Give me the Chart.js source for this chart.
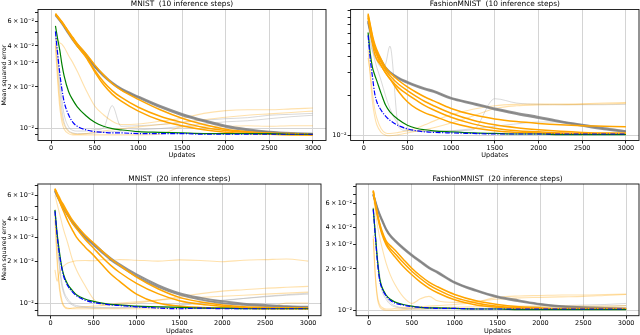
<!DOCTYPE html>
<html>
<head>
<meta charset="utf-8">
<script src="https://cdn.jsdelivr.net/npm/chart.js@4.4.1/dist/chart.umd.min.js"></script>
<style>
  html, body { margin: 0; padding: 0; background: #fff; }
  #page { position: relative; width: 640px; height: 335px; overflow: hidden; }
  #page canvas { position: absolute; }
</style>
</head>
<body>
<div id="page">
  <canvas id="c1" width="330" height="159" style="left:0;top:0"></canvas>
  <canvas id="c2" width="314" height="159" style="left:326px;top:0"></canvas>
  <canvas id="c3" width="330" height="165" style="left:0;top:170px"></canvas>
  <canvas id="c4" width="314" height="165" style="left:326px;top:170px"></canvas>
</div>
<script>
// x positions (updates) shared by every run
const updates = [50, 75, 100, 125, 150, 200, 250, 300, 400, 500, 600, 700, 800, 1000, 1250, 1500, 1750, 2000, 2250, 2500, 2750, 3000];
const xTicks = [0, 500, 1000, 1500, 2000, 2500, 3000];

const titles = ['MNIST  (10 inference steps)', 'FashionMNIST  (10 inference steps)',
                'MNIST  (20 inference steps)', 'FashionMNIST  (20 inference steps)'];

const yTicksMnist = [0.009, 0.01, 0.02, 0.03, 0.04, 0.05, 0.06, 0.07];
const yTicksFashion10 = [0.01, 0.02, 0.03, 0.04, 0.05, 0.06, 0.07, 0.08, 0.09];
const yTicksFashion20 = [0.01, 0.02, 0.03, 0.04, 0.05, 0.06, 0.07, 0.08];
const yLabelsFull = { 10: '10⁻²', 20: '2\u2009×\u200910⁻²', 30: '3\u2009×\u200910⁻²', 40: '4\u2009×\u200910⁻²', 60: '6\u2009×\u200910⁻²' };
const yLabelsDecade = { 10: '10⁻²' };

// ---- MNIST, 10 inference steps ----
const m10Gray1 = [0.068, 0.065, 0.062, 0.059, 0.056, 0.050, 0.045, 0.041, 0.0345, 0.0285, 0.0245, 0.0215, 0.0195, 0.0170, 0.0145, 0.0127, 0.0114, 0.0104, 0.0098, 0.0094, 0.0092, 0.0091];
const m10Gray2 = [0.067, 0.064, 0.061, 0.058, 0.055, 0.049, 0.044, 0.040, 0.0338, 0.0280, 0.0240, 0.0212, 0.0192, 0.0167, 0.0142, 0.0124, 0.0112, 0.0102, 0.0096, 0.0093, 0.0091, 0.0090];
const m10Orange1 = [0.069, 0.066, 0.063, 0.060, 0.057, 0.051, 0.046, 0.0415, 0.035, 0.029, 0.0245, 0.0212, 0.0190, 0.0162, 0.0136, 0.0118, 0.0106, 0.0098, 0.0094, 0.0092, 0.0091, 0.0090];
const m10Orange2 = [0.068, 0.065, 0.062, 0.059, 0.056, 0.050, 0.0445, 0.040, 0.0335, 0.0265, 0.0218, 0.0188, 0.0168, 0.0142, 0.0122, 0.0110, 0.0101, 0.0096, 0.0093, 0.0091, 0.0090, 0.0089];
const m10Orange3 = [0.068, 0.065, 0.062, 0.059, 0.056, 0.050, 0.0445, 0.0398, 0.0330, 0.0258, 0.0208, 0.0177, 0.0158, 0.0133, 0.0114, 0.0104, 0.0097, 0.0093, 0.0091, 0.0090, 0.0089, 0.0089];
const m10Green = [0.056, 0.045, 0.037, 0.029, 0.024, 0.0185, 0.016, 0.0143, 0.0123, 0.0110, 0.0103, 0.0099, 0.0097, 0.0094, 0.0093, 0.0092, 0.0091, 0.0091, 0.0091, 0.0091, 0.0090, 0.0090];
const m10Blue = [0.051, 0.035, 0.025, 0.019, 0.0155, 0.0125, 0.0110, 0.0103, 0.0097, 0.0094, 0.0093, 0.0092, 0.0092, 0.0091, 0.0091, 0.0091, 0.0090, 0.0090, 0.0090, 0.0090, 0.0090, 0.0090];
const m10Faint1 = [0.045, 0.044, 0.042, 0.041, 0.039, 0.034, 0.030, 0.026, 0.019, 0.0145, 0.0125, 0.0112, 0.0106, 0.0107, 0.0112, 0.0118, 0.0128, 0.0134, 0.0136, 0.0136, 0.0138, 0.0140];
const m10Faint2 = [0.042, 0.025, 0.016, 0.012, 0.0105, 0.0094, 0.0091, 0.0090, 0.0091, 0.0093, 0.0095, 0.0097, 0.0099, 0.0102, 0.0106, 0.0110, 0.0115, 0.0120, 0.0124, 0.0127, 0.0130, 0.0133];
const m10Faint3 = [0.040, 0.022, 0.014, 0.011, 0.0098, 0.0091, 0.0089, 0.0089, 0.0089, 0.0089, 0.0089, 0.0089, 0.0089, 0.0089, 0.0090, 0.0102, 0.0103, 0.0103, 0.0104, 0.0103, 0.0104, 0.0104];
const m10FaintGray1 = [0.050, 0.035, 0.023, 0.016, 0.0125, 0.0102, 0.0096, 0.0095, 0.0095, 0.0097, 0.0100, 0.0146, 0.0103, 0.0104, 0.0106, 0.0110, 0.0114, 0.0117, 0.0119, 0.0124, 0.0126, 0.0128];
const m10FaintGray2 = [0.048, 0.030, 0.019, 0.0135, 0.011, 0.0096, 0.0092, 0.0091, 0.0091, 0.0092, 0.0093, 0.0094, 0.0095, 0.0097, 0.0099, 0.0103, 0.0107, 0.0111, 0.0113, 0.0117, 0.0121, 0.0124];

// ---- FashionMNIST, 10 inference steps ----
const f10Gray1 = [0.075, 0.063, 0.053, 0.047, 0.043, 0.0374, 0.033, 0.0305, 0.0275, 0.0256, 0.0240, 0.0228, 0.0218, 0.0193, 0.0176, 0.0160, 0.0148, 0.0138, 0.0128, 0.0120, 0.0113, 0.0107];
const f10Gray2 = [0.073, 0.062, 0.052, 0.046, 0.042, 0.0368, 0.0325, 0.030, 0.027, 0.0251, 0.0236, 0.0224, 0.0214, 0.0190, 0.0173, 0.0157, 0.0145, 0.0135, 0.0126, 0.0118, 0.0111, 0.0106];
const f10Orange1 = [0.085, 0.070, 0.058, 0.050, 0.045, 0.038, 0.033, 0.030, 0.0262, 0.0234, 0.0213, 0.0196, 0.0183, 0.0160, 0.0143, 0.0133, 0.0127, 0.0123, 0.0120, 0.0118, 0.0117, 0.0116];
const f10Orange2 = [0.083, 0.068, 0.056, 0.048, 0.043, 0.036, 0.0315, 0.0285, 0.0245, 0.0219, 0.0198, 0.0181, 0.0168, 0.0147, 0.0130, 0.0120, 0.0114, 0.0110, 0.0107, 0.0105, 0.0104, 0.0104];
const f10Orange3 = [0.081, 0.066, 0.054, 0.046, 0.041, 0.034, 0.030, 0.027, 0.0230, 0.0205, 0.0185, 0.0168, 0.0156, 0.0137, 0.0122, 0.0113, 0.0108, 0.0106, 0.0104, 0.0103, 0.0103, 0.0102];
const f10Orange4 = [0.079, 0.062, 0.050, 0.042, 0.038, 0.034, 0.030, 0.027, 0.0215, 0.0180, 0.0160, 0.0148, 0.0140, 0.0125, 0.0114, 0.0108, 0.0105, 0.0104, 0.0103, 0.0103, 0.0102, 0.0102];
const f10Green = [0.061, 0.042, 0.033, 0.029, 0.026, 0.0208, 0.017, 0.0151, 0.0131, 0.0119, 0.0113, 0.0110, 0.0108, 0.0106, 0.0104, 0.0103, 0.0102, 0.0102, 0.0101, 0.0101, 0.0101, 0.0101];
const f10Blue = [0.058, 0.038, 0.028, 0.021, 0.018, 0.0155, 0.0140, 0.0130, 0.0118, 0.0112, 0.0108, 0.0106, 0.0105, 0.0104, 0.0103, 0.0102, 0.0102, 0.0102, 0.0102, 0.0102, 0.0102, 0.0102];
const f10Faint1 = [0.039, 0.030, 0.021, 0.016, 0.0135, 0.0112, 0.0104, 0.0103, 0.0105, 0.0108, 0.0113, 0.0120, 0.0128, 0.0143, 0.0158, 0.0168, 0.0172, 0.0173, 0.0173, 0.0174, 0.0176, 0.0178];
const f10Faint2 = [0.045, 0.028, 0.018, 0.0140, 0.0120, 0.0105, 0.0100, 0.0099, 0.0101, 0.0104, 0.0107, 0.0110, 0.0114, 0.0124, 0.0140, 0.0160, 0.0168, 0.0170, 0.0171, 0.0172, 0.0173, 0.0175];
const f10FaintGray1 = [0.060, 0.050, 0.044, 0.040, 0.037, 0.033, 0.035, 0.048, 0.0115, 0.0108, 0.0107, 0.0107, 0.0107, 0.0108, 0.0110, 0.0190, 0.0176, 0.0172, 0.0171, 0.0171, 0.0171, 0.0172];
const f10FaintGray2 = [0.070, 0.055, 0.045, 0.038, 0.033, 0.026, 0.020, 0.016, 0.0120, 0.0110, 0.0108, 0.0107, 0.0107, 0.0108, 0.0112, 0.0117, 0.0122, 0.0126, 0.0126, 0.0121, 0.0115, 0.0108];

// ---- MNIST, 20 inference steps ----
const m20Gray1 = [0.065, 0.060, 0.056, 0.052, 0.049, 0.0436, 0.039, 0.0359, 0.0305, 0.0270, 0.0238, 0.0212, 0.0192, 0.0162, 0.0136, 0.0119, 0.0110, 0.0104, 0.0100, 0.0098, 0.0096, 0.0095];
const m20Gray2 = [0.064, 0.059, 0.055, 0.051, 0.048, 0.0428, 0.0383, 0.0352, 0.0298, 0.0263, 0.0232, 0.0206, 0.0187, 0.0157, 0.0132, 0.0116, 0.0107, 0.0101, 0.0098, 0.0096, 0.0095, 0.0094];
const m20Orange1 = [0.067, 0.062, 0.058, 0.054, 0.051, 0.045, 0.040, 0.0365, 0.031, 0.0272, 0.0238, 0.0210, 0.0189, 0.0155, 0.0128, 0.0111, 0.0103, 0.0098, 0.0095, 0.0094, 0.0093, 0.0093];
const m20Orange2 = [0.066, 0.061, 0.056, 0.052, 0.049, 0.043, 0.038, 0.0345, 0.0290, 0.0250, 0.0215, 0.0188, 0.0168, 0.0140, 0.0118, 0.0105, 0.0099, 0.0096, 0.0094, 0.0093, 0.0093, 0.0092];
const m20Orange3 = [0.066, 0.060, 0.055, 0.050, 0.046, 0.039, 0.034, 0.030, 0.0255, 0.0222, 0.0190, 0.0163, 0.0145, 0.0117, 0.0101, 0.0096, 0.0094, 0.0093, 0.0093, 0.0092, 0.0092, 0.0092];
const m20Green = [0.047, 0.032, 0.024, 0.019, 0.0162, 0.0137, 0.0125, 0.0116, 0.0108, 0.0104, 0.0101, 0.0099, 0.0098, 0.0096, 0.0095, 0.0094, 0.0093, 0.0093, 0.0092, 0.0092, 0.0092, 0.0092];
const m20Blue = [0.046, 0.031, 0.023, 0.0185, 0.0158, 0.0134, 0.0122, 0.0114, 0.0106, 0.0102, 0.0100, 0.0098, 0.0097, 0.0095, 0.0093, 0.0092, 0.0093, 0.0092, 0.0092, 0.0092, 0.0092, 0.0092];
const m20Faint1 = [0.0175, 0.0145, 0.0165, 0.0178, 0.0186, 0.0196, 0.0200, 0.0203, 0.0204, 0.0203, 0.0207, 0.0204, 0.0207, 0.0205, 0.0202, 0.0206, 0.0204, 0.0200, 0.0205, 0.0207, 0.0209, 0.0202];
const m20Faint2 = [0.060, 0.052, 0.045, 0.039, 0.034, 0.027, 0.021, 0.0175, 0.0135, 0.0108, 0.0098, 0.0098, 0.0099, 0.0101, 0.0106, 0.0112, 0.0118, 0.0123, 0.0126, 0.0129, 0.0131, 0.0133];
const m20Faint3 = [0.044, 0.022, 0.014, 0.011, 0.0098, 0.0093, 0.0092, 0.0092, 0.0092, 0.0092, 0.0092, 0.0092, 0.0092, 0.0092, 0.0092, 0.0092, 0.0092, 0.0092, 0.0092, 0.0092, 0.0101, 0.0101];
const m20Faint4 = [0.040, 0.020, 0.013, 0.0105, 0.0096, 0.0092, 0.0093, 0.0094, 0.0095, 0.0096, 0.0097, 0.0099, 0.0101, 0.0103, 0.0106, 0.0109, 0.0111, 0.0113, 0.0115, 0.0117, 0.0119, 0.0121];
const m20FaintGray1 = [0.047, 0.030, 0.020, 0.015, 0.0125, 0.0108, 0.0100, 0.0097, 0.0095, 0.0094, 0.0094, 0.0094, 0.0094, 0.0094, 0.0095, 0.0097, 0.0101, 0.0105, 0.0109, 0.0113, 0.0116, 0.0119];
const m20FaintGray2 = [0.046, 0.028, 0.019, 0.014, 0.012, 0.0104, 0.0098, 0.0095, 0.0094, 0.0093, 0.0093, 0.0093, 0.0093, 0.0094, 0.0095, 0.0098, 0.0102, 0.0106, 0.0109, 0.0112, 0.0115, 0.0117];

// ---- FashionMNIST, 20 inference steps ----
const f20Gray1 = [0.070, 0.062, 0.055, 0.050, 0.046, 0.039, 0.035, 0.0325, 0.0285, 0.0253, 0.0228, 0.0205, 0.0190, 0.0160, 0.0140, 0.0126, 0.0118, 0.0111, 0.0107, 0.0105, 0.0104, 0.0103];
const f20Gray2 = [0.069, 0.061, 0.054, 0.049, 0.045, 0.0385, 0.0345, 0.0320, 0.0280, 0.0249, 0.0224, 0.0202, 0.0187, 0.0158, 0.0138, 0.0124, 0.0116, 0.0110, 0.0106, 0.0104, 0.0103, 0.0102];
const f20Orange1 = [0.074, 0.060, 0.050, 0.043, 0.038, 0.032, 0.0295, 0.0275, 0.0235, 0.0202, 0.0178, 0.0160, 0.0148, 0.0130, 0.0117, 0.0110, 0.0106, 0.0104, 0.0103, 0.0103, 0.0103, 0.0103];
const f20Orange2 = [0.074, 0.059, 0.049, 0.042, 0.037, 0.031, 0.028, 0.0260, 0.0222, 0.0192, 0.0170, 0.0153, 0.0141, 0.0124, 0.0113, 0.0107, 0.0104, 0.0103, 0.0102, 0.0102, 0.0102, 0.0102];
const f20Orange3 = [0.073, 0.058, 0.048, 0.041, 0.036, 0.030, 0.0268, 0.0246, 0.0208, 0.0181, 0.0160, 0.0145, 0.0134, 0.0119, 0.0109, 0.0105, 0.0103, 0.0103, 0.0102, 0.0102, 0.0102, 0.0102];
const f20Green = [0.055, 0.035, 0.023, 0.017, 0.0148, 0.0129, 0.0120, 0.0115, 0.0110, 0.0107, 0.0105, 0.0104, 0.0104, 0.0103, 0.0102, 0.0102, 0.0101, 0.0101, 0.0101, 0.0101, 0.0101, 0.0101];
const f20Blue = [0.054, 0.034, 0.022, 0.0165, 0.0145, 0.0127, 0.0118, 0.0113, 0.0109, 0.0106, 0.0105, 0.0104, 0.0103, 0.0103, 0.0102, 0.0102, 0.0102, 0.0102, 0.0102, 0.0102, 0.0102, 0.0102];
const f20Faint1 = [0.035, 0.018, 0.0125, 0.0110, 0.0105, 0.0102, 0.0102, 0.0103, 0.0104, 0.0105, 0.0106, 0.0107, 0.0108, 0.0110, 0.0115, 0.0124, 0.0127, 0.0128, 0.0129, 0.0129, 0.0130, 0.0131];
const f20Faint2 = [0.070, 0.052, 0.041, 0.034, 0.029, 0.022, 0.018, 0.0155, 0.0125, 0.0112, 0.0121, 0.0126, 0.0117, 0.0114, 0.0116, 0.0120, 0.0123, 0.0124, 0.0125, 0.0126, 0.0128, 0.0130];
const f20Faint3 = [0.033, 0.017, 0.012, 0.0106, 0.0102, 0.0100, 0.0100, 0.0100, 0.0101, 0.0102, 0.0102, 0.0103, 0.0104, 0.0105, 0.0106, 0.0107, 0.0107, 0.0107, 0.0107, 0.0107, 0.0107, 0.0108];
const f20FaintGray1 = [0.056, 0.036, 0.024, 0.018, 0.015, 0.0125, 0.0113, 0.0108, 0.0104, 0.0103, 0.0103, 0.0103, 0.0103, 0.0103, 0.0103, 0.0104, 0.0105, 0.0107, 0.0108, 0.0109, 0.0110, 0.0112];
const f20FaintGray2 = [0.055, 0.035, 0.023, 0.017, 0.014, 0.012, 0.011, 0.0106, 0.0103, 0.0102, 0.0102, 0.0102, 0.0102, 0.0102, 0.0102, 0.0103, 0.0104, 0.0104, 0.0105, 0.0106, 0.0107, 0.0108];

Chart.defaults.font.family = '"DejaVu Sans", sans-serif';
Chart.defaults.color = '#000';

// line looks, bottom layer first
const styles = {
    faintGray:   { borderColor: 'rgba(170,170,170,0.45)', borderWidth: 1 },
    faintOrange: { borderColor: 'rgba(255,165,0,0.33)', borderWidth: 1.1 },
    gray:        { borderColor: 'rgba(128,128,128,0.85)', borderWidth: 1.9 },
    orange:      { borderColor: '#ffa500', borderWidth: 1.5 },
    green:       { borderColor: '#008000', borderWidth: 1.2 },
    blue:        { borderColor: '#0000ff', borderWidth: 1.2, borderDash: [5, 1.5, 1.2, 1.5] }
};

const framePlugin = {
    id: 'frame',
    afterDraw(chart) {
        const { ctx, chartArea: a } = chart;
        ctx.save();
        ctx.strokeStyle = '#111';
        ctx.lineWidth = 0.9;
        ctx.strokeRect(a.left, a.top, a.right - a.left, a.bottom - a.top);
        ctx.restore();
    }
};

const titlePlugin = {
    id: 'panelTitle',
    afterDraw(chart, args, opts) {
        const { ctx, chartArea: a } = chart;
        ctx.save();
        ctx.font = '7.4px "DejaVu Sans"';
        ctx.fillStyle = '#000';
        ctx.textAlign = 'center';
        ctx.textBaseline = 'bottom';
        ctx.fillText(opts.text, (a.left + a.right) / 2, a.top - 1.5);
        ctx.restore();
    }
};

function makePanel(id, p) {
    const order = ['faintGray', 'faintOrange', 'gray', 'orange', 'green', 'blue'];
    const list = p.series.slice().sort((a, b) => order.indexOf(a[1]) - order.indexOf(b[1]));
    const datasets = list.map(([values, kind], i) => Object.assign({
        data: values.map((v, j) => ({ x: updates[j], y: v })),
        pointRadius: 0,
        fill: false,
        cubicInterpolationMode: 'monotone',
        order: list.length - i
    }, styles[kind]));

    new Chart(document.getElementById(id), {
        type: 'line',
        data: { datasets },
        options: {
            responsive: false,
            animation: false,
            events: [],
            layout: { padding: { left: 0, right: p.padRight, top: p.padTop, bottom: 0 } },
            plugins: {
                legend: { display: false },
                tooltip: { enabled: false },
                panelTitle: { text: p.title }
            },
            scales: {
                x: {
                    type: 'linear',
                    min: -150,
                    max: 3150,
                    afterBuildTicks: (axis) => { axis.ticks = xTicks.map(v => ({ value: v })); },
                    afterFit: (axis) => { axis.height = p.xHeight; },
                    ticks: { font: { size: 6.5 }, padding: 0.5, maxRotation: 0, autoSkip: false, callback: (v) => String(v) },
                    grid: { color: '#d4d4d4', lineWidth: 1, tickLength: 3, tickColor: '#222' },
                    border: { display: false },
                    title: { display: true, text: 'Updates', font: { size: 6.5 }, padding: 0 }
                },
                y: {
                    type: 'logarithmic',
                    min: p.yMin,
                    max: p.yMax,
                    afterBuildTicks: (axis) => { axis.ticks = p.yTicks.map(v => ({ value: v })); },
                    afterFit: (axis) => { axis.width = p.yWidth; },
                    ticks: {
                        font: { size: 6.5 },
                        padding: 1,
                        autoSkip: false,
                        callback: (v) => p.yLabels[Math.round(v * 1000)] || ''
                    },
                    grid: {
                        color: (c) => (c.tick && Math.abs(c.tick.value - 0.01) < 1e-6) ? '#d4d4d4' : 'rgba(0,0,0,0)',
                        tickLength: 3,
                        tickColor: '#222'
                    },
                    border: { display: false },
                    title: { display: p.yTitle, text: 'Mean squared error', font: { size: 6.2 }, padding: { top: 1, bottom: 0 } }
                }
            }
        },
        plugins: [framePlugin, titlePlugin]
    });
}

makePanel('c1', {
    title: titles[0], yMin: 0.0081, yMax: 0.0738, yTicks: yTicksMnist, yLabels: yLabelsFull,
    yWidth: 38, padRight: 4, padTop: 9.5, xHeight: 18.5, yTitle: true,
    series: [[m10FaintGray1, 'faintGray'], [m10FaintGray2, 'faintGray'],
             [m10Faint1, 'faintOrange'], [m10Faint2, 'faintOrange'], [m10Faint3, 'faintOrange'],
             [m10Gray1, 'gray'], [m10Gray2, 'gray'],
             [m10Orange1, 'orange'], [m10Orange2, 'orange'], [m10Orange3, 'orange'],
             [m10Green, 'green'], [m10Blue, 'blue']]
});

makePanel('c2', {
    title: titles[1], yMin: 0.0091, yMax: 0.0915, yTicks: yTicksFashion10, yLabels: yLabelsDecade,
    yWidth: 24.6, padRight: 1, padTop: 9.5, xHeight: 18.5, yTitle: false,
    series: [[f10FaintGray1, 'faintGray'], [f10FaintGray2, 'faintGray'],
             [f10Faint1, 'faintOrange'], [f10Faint2, 'faintOrange'],
             [f10Gray1, 'gray'], [f10Gray2, 'gray'],
             [f10Orange1, 'orange'], [f10Orange2, 'orange'], [f10Orange3, 'orange'], [f10Orange4, 'orange'],
             [f10Green, 'green'], [f10Blue, 'blue']]
});

makePanel('c3', {
    title: titles[2], yMin: 0.0082, yMax: 0.0721, yTicks: yTicksMnist, yLabels: yLabelsFull,
    yWidth: 37.8, padRight: 9, padTop: 14, xHeight: 19.3, yTitle: true,
    series: [[m20FaintGray1, 'faintGray'], [m20FaintGray2, 'faintGray'],
             [m20Faint1, 'faintOrange'], [m20Faint2, 'faintOrange'], [m20Faint3, 'faintOrange'], [m20Faint4, 'faintOrange'],
             [m20Gray1, 'gray'], [m20Gray2, 'gray'],
             [m20Orange1, 'orange'], [m20Orange2, 'orange'], [m20Orange3, 'orange'],
             [m20Green, 'green'], [m20Blue, 'blue']]
});

makePanel('c4', {
    title: titles[3], yMin: 0.00912, yMax: 0.0828, yTicks: yTicksFashion20, yLabels: yLabelsFull,
    yWidth: 30.1, padRight: 1, padTop: 14, xHeight: 19.3, yTitle: false,
    series: [[f20FaintGray1, 'faintGray'], [f20FaintGray2, 'faintGray'],
             [f20Faint1, 'faintOrange'], [f20Faint2, 'faintOrange'], [f20Faint3, 'faintOrange'],
             [f20Gray1, 'gray'], [f20Gray2, 'gray'],
             [f20Orange1, 'orange'], [f20Orange2, 'orange'], [f20Orange3, 'orange'],
             [f20Green, 'green'], [f20Blue, 'blue']]
});
</script>
</body>
</html>
